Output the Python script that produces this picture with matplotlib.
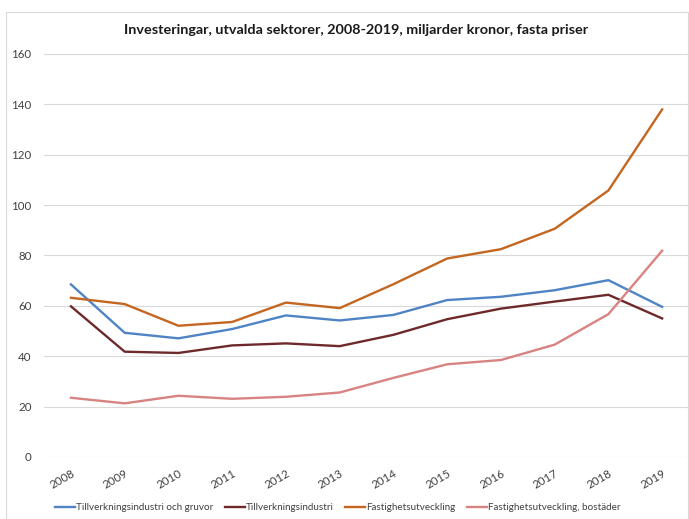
import matplotlib.pyplot as plt
from matplotlib.patches import Rectangle

plt.rcParams['font.family'] = ['Lato', 'DejaVu Sans']

years = ['2008', '2009', '2010', '2011', '2012', '2013',
         '2014', '2015', '2016', '2017', '2018', '2019']
industri_gruvor = [68.5, 49.3, 47.1, 50.8, 56.2, 54.2, 56.4, 62.3, 63.6, 66.2, 70.2, 59.6]
industri = [59.8, 41.8, 41.3, 44.3, 45.1, 44.0, 48.5, 54.7, 58.9, 61.7, 64.4, 55.0]
fastighet = [63.2, 60.7, 52.1, 53.6, 61.3, 59.1, 68.6, 78.8, 82.5, 90.6, 105.8, 138.0]
fastighet_bostad = [23.5, 21.3, 24.3, 23.1, 23.9, 25.6, 31.4, 36.8, 38.5, 44.6, 56.7, 81.9]

series = [
    ('Tillverkningsindustri och gruvor', industri_gruvor, '#4f84c4'),
    ('Tillverkningsindustri', industri, '#6e2a2a'),
    ('Fastighetsutveckling', fastighet, '#c4661f'),
    ('Fastighetsutveckling, bostäder', fastighet_bostad, '#d98282'),
]

fig = plt.figure(figsize=(6.89, 5.19), dpi=100)
ax = fig.add_axes([0.064, 0.1195, 0.936, 0.7765])

x = range(len(years))
for name, vals, col in series:
    ax.plot(x, vals, color=col, lw=1.7, label=name)

ax.set_xlim(-0.5, 11.5)
ax.set_ylim(0, 160)
ax.set_yticks(range(0, 161, 20))
ax.set_xticks(list(x))
ax.set_xticklabels(years, rotation=30, ha='right', rotation_mode='anchor')
ax.tick_params(axis='both', length=0, labelsize=8.3, colors='#404040')
ax.tick_params(axis='y', pad=9)
ax.tick_params(axis='x', pad=8)
ax.grid(axis='y', color='#d9d9d9', lw=0.8)
ax.set_axisbelow(True)
for s in ax.spines.values():
    s.set_visible(False)

fig.text(0.517, 0.942, 'Investeringar, utvalda sektorer, 2008-2019, miljarder kronor, fasta priser',
         ha='center', va='center', fontsize=10.4, fontweight='bold', color='#1a1a1a')

fig.legend(loc='center', bbox_to_anchor=(0.49, 0.022), ncol=4, frameon=False,
           fontsize=7.1, handlelength=2.0, handletextpad=0.1, columnspacing=1.2,
           labelcolor='#404040')

fig.patches.append(Rectangle((0.008, 0.0), 0.99, 0.977, transform=fig.transFigure,
                             fill=False, edgecolor='#d9d9d9', lw=0.8))

fig.savefig('out.png', dpi=100)
